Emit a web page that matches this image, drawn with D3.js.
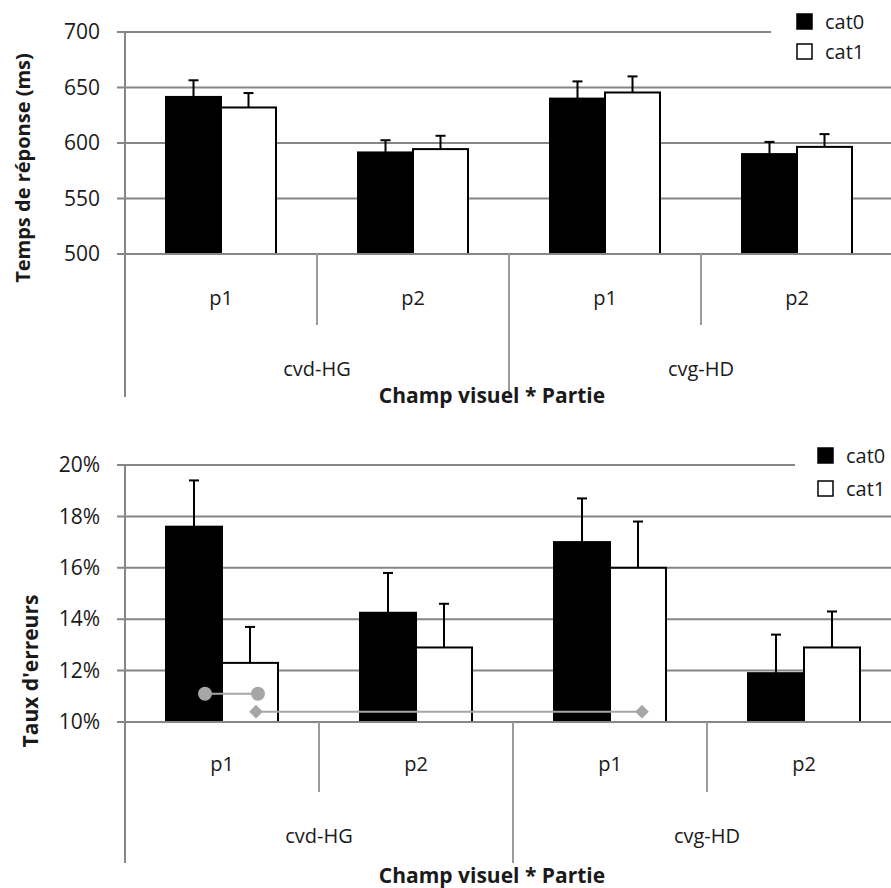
<!DOCTYPE html>
<html lang="fr">
<head>
<meta charset="UTF-8">
<title>Champ visuel * Partie</title>
<script src="https://cdn.jsdelivr.net/npm/d3@7/dist/d3.min.js"></script>
<style>
  body { margin: 0; background: #fff; }
  svg text { font-family: "Open Sans", Calibri, sans-serif; fill: #1a1a1a; }
  .grid line { stroke: #868686; stroke-width: 2px; }
  .axisline { stroke: #868686; stroke-width: 2px; }
  .divider { stroke: #9a9a9a; stroke-width: 2px; }
</style>
</head>
<body>
<svg id="chart" width="891" height="888"></svg>
<script>
// ---- data ----
const series = ["cat0", "cat1"];
const parts = ["p1", "p2", "p1", "p2"];
const fields = ["cvd-HG", "cvg-HD"];

// temps de reponse (ms)
const rtTicks = [500, 550, 600, 650, 700];
const rtCat0 = [641.5, 591.5, 640, 590];
const rtCat1 = [632, 594.5, 645.5, 596.5];
const rtErr0 = [15, 11, 15.5, 11];
const rtErr1 = [13, 12, 14.5, 11.5];

// taux d'erreurs
const errTicks = [0.10, 0.12, 0.14, 0.16, 0.18, 0.20];
const erCat0 = [0.176, 0.1425, 0.170, 0.119];
const erCat1 = [0.123, 0.129, 0.160, 0.129];
const erErr0 = [0.018, 0.0155, 0.017, 0.015];
const erErr1 = [0.014, 0.017, 0.018, 0.014];

// significance markers: [group, series] -> [group, series] at a value
const sigCircle = { from: [0, 0], to: [0, 1], value: 0.111 };
const sigDiamond = { from: [0, 1], to: [2, 1], value: 0.104 };

const svg = d3.select("#chart");

function drawPanel(cfg) {
  const g = svg.append("g");
  const x0 = 125;
  const gw = cfg.groupW;
  const bw = cfg.barW;

  const xGroup = d3.scaleBand().domain(d3.range(parts.length))
    .range([x0, x0 + gw * parts.length]).padding(0);
  const xSub = d3.scaleBand().domain(series)
    .range([gw / 2 - bw, gw / 2 + bw]).padding(0);
  const y = d3.scaleLinear().domain(cfg.domain).range([cfg.yBottom, cfg.yTop]);

  // gridlines
  const grid = g.append("g").attr("class", "grid");
  cfg.ticks.forEach((t, i) => {
    const last = i === cfg.ticks.length - 1;
    grid.append("line")
      .attr("x1", x0 - 8).attr("x2", last ? cfg.topGridEnd : 891)
      .attr("y1", y(t)).attr("y2", y(t));
  });

  // y axis labels
  const yAxis = d3.axisLeft(y).tickValues(cfg.ticks).tickFormat(cfg.fmt).tickSize(0).tickPadding(0);
  const ya = g.append("g").attr("transform", `translate(${x0 - 25},0)`).call(yAxis);
  ya.select(".domain").remove();
  ya.selectAll("text").attr("font-size", 21).attr("fill", "#1a1a1a")
    .style("font-family", "'Open Sans', sans-serif");

  // y axis line
  g.append("line").attr("class", "axisline")
    .attr("x1", x0).attr("x2", x0).attr("y1", cfg.yTop).attr("y2", cfg.axisBottom);

  const rows = [];
  parts.forEach((p, i) => {
    rows.push({ gi: i, s: "cat0", v: cfg.v0[i], e: cfg.e0[i] });
    rows.push({ gi: i, s: "cat1", v: cfg.v1[i], e: cfg.e1[i] });
  });
  const bx = d => xGroup(d.gi) + xSub(d.s);

  // error bars
  const eb = g.append("g").attr("stroke", "#000").attr("stroke-width", 2);
  rows.forEach(d => {
    const cx = bx(d) + bw / 2;
    eb.append("line").attr("x1", cx).attr("x2", cx).attr("y1", y(d.v)).attr("y2", y(d.v + d.e));
    eb.append("line").attr("x1", cx - 5).attr("x2", cx + 5).attr("y1", y(d.v + d.e)).attr("y2", y(d.v + d.e));
  });

  // bars
  g.append("g").selectAll("rect").data(rows).join("rect")
    .attr("x", d => bx(d))
    .attr("y", d => y(d.v))
    .attr("width", bw)
    .attr("height", d => y(cfg.domain[0]) - y(d.v))
    .attr("fill", d => d.s === "cat0" ? "#000" : "#fff")
    .attr("stroke", "#000").attr("stroke-width", 2);

  // x axis line
  g.append("line").attr("class", "axisline")
    .attr("x1", x0 - 8).attr("x2", 891).attr("y1", y(cfg.domain[0])).attr("y2", y(cfg.domain[0]));

  // dividers
  [1, 3].forEach(i => {
    g.append("line").attr("class", "divider")
      .attr("x1", xGroup(i)).attr("x2", xGroup(i))
      .attr("y1", y(cfg.domain[0])).attr("y2", cfg.shortDivBottom);
  });
  g.append("line").attr("class", "divider")
    .attr("x1", xGroup(2)).attr("x2", xGroup(2))
    .attr("y1", y(cfg.domain[0])).attr("y2", cfg.axisBottom);

  // category labels
  parts.forEach((p, i) => {
    g.append("text").attr("x", xGroup(i) + gw / 2).attr("y", cfg.partY)
      .attr("text-anchor", "middle").attr("dominant-baseline", "central")
      .attr("font-size", 20).attr("fill", "#262633").text(p);
  });
  fields.forEach((f, i) => {
    g.append("text").attr("x", xGroup(i * 2 + 1)).attr("y", cfg.fieldY)
      .attr("text-anchor", "middle").attr("dominant-baseline", "central")
      .attr("font-size", 20).attr("fill", "#262633").text(f);
  });

  g.append("text").attr("x", 492).attr("y", cfg.titleY)
    .attr("text-anchor", "middle").attr("dominant-baseline", "central")
    .attr("font-size", 21).attr("font-weight", "bold").attr("fill", "#111")
    .text("Champ visuel * Partie");

  g.append("text")
    .attr("transform", `translate(${cfg.yTitleX},${cfg.yTitleY}) rotate(-90)`)
    .attr("text-anchor", "middle").attr("dominant-baseline", "central")
    .attr("font-size", cfg.yTitleSize).attr("font-weight", "bold").attr("fill", "#111")
    .text(cfg.yTitle);

  // legend
  series.forEach((s, i) => {
    const ly = cfg.legendY + i * cfg.legendStep;
    g.append("rect").attr("x", cfg.legendX).attr("y", ly - 7).attr("width", 15).attr("height", 15)
      .attr("fill", s === "cat0" ? "#000" : "#fff").attr("stroke", "#000").attr("stroke-width", 1.5);
    g.append("text").attr("x", cfg.legendX + 28).attr("y", ly)
      .attr("dominant-baseline", "central").attr("font-size", 20).text(s);
  });

  return { g, xGroup, xSub, y, bw };
}

drawPanel({
  domain: [500, 700], ticks: rtTicks, fmt: d3.format("d"),
  yTop: 32, yBottom: 254, groupW: 192, barW: 55,
  v0: rtCat0, v1: rtCat1, e0: rtErr0, e1: rtErr1,
  topGridEnd: 771, axisBottom: 397, shortDivBottom: 325,
  partY: 297, fieldY: 368, titleY: 395,
  yTitle: "Temps de réponse (ms)", yTitleX: 22, yTitleY: 168, yTitleSize: 20,
  legendX: 797, legendY: 21, legendStep: 30
});

const low = drawPanel({
  domain: [0.10, 0.20], ticks: errTicks, fmt: d3.format(".0%"),
  yTop: 465, yBottom: 722, groupW: 194, barW: 56,
  v0: erCat0, v1: erCat1, e0: erErr0, e1: erErr1,
  topGridEnd: 795, axisBottom: 863, shortDivBottom: 792,
  partY: 763, fieldY: 835, titleY: 875,
  yTitle: "Taux d'erreurs", yTitleX: 30, yTitleY: 671, yTitleSize: 21,
  legendX: 818, legendY: 455, legendStep: 33
});

// significance markers
function markX(ref, shift) {
  return low.xGroup(ref[0]) + low.xSub(series[ref[1]]) + low.bw / 2 + shift;
}
const sig = low.g.append("g");
{
  const yv = low.y(sigCircle.value);
  const xa = markX(sigCircle.from, 11), xb = markX(sigCircle.to, 8);
  sig.append("line").attr("x1", xa).attr("x2", xb).attr("y1", yv).attr("y2", yv)
    .attr("stroke", "#a6a6a6").attr("stroke-width", 2);
  [xa, xb].forEach(cx => sig.append("circle").attr("cx", cx).attr("cy", yv).attr("r", 7).attr("fill", "#a6a6a6"));
}
{
  const yv = low.y(sigDiamond.value);
  const xa = markX(sigDiamond.from, 6), xb = markX(sigDiamond.to, 4);
  sig.append("line").attr("x1", xa).attr("x2", xb).attr("y1", yv).attr("y2", yv)
    .attr("stroke", "#a6a6a6").attr("stroke-width", 2);
  [xa, xb].forEach(cx => sig.append("path")
    .attr("d", d3.symbol(d3.symbolDiamond2, 120)())
    .attr("transform", `translate(${cx},${yv})`).attr("fill", "#a6a6a6"));
}
</script>
</body>
</html>
